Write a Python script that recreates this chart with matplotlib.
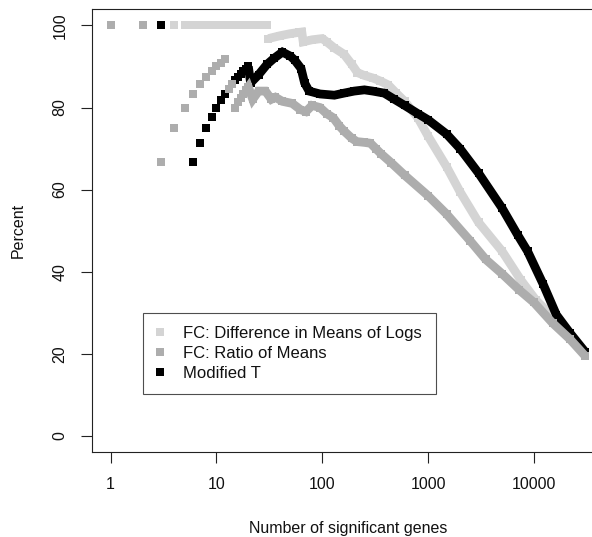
import numpy as np
import matplotlib
matplotlib.use('Agg')
import matplotlib.pyplot as plt
from matplotlib.lines import Line2D
from matplotlib.ticker import FixedLocator, FixedFormatter, NullLocator

plt.rcParams['font.family'] = ['Liberation Sans', 'DejaVu Sans']

series_labels = ['FC: Difference in Means of Logs', 'FC: Ratio of Means', 'Modified T']
series_colors = ['#d4d4d4', '#adadad', '#000000']

# ---- FC: Difference in Means of Logs (light grey)
logs_x_discrete = [1, 2, 3, 4, 5, 6, 7, 8, 9, 10, 11, 12, 13, 14, 15, 16, 17, 18, 19, 20,
                   21, 22, 23, 24, 25, 26, 27, 28, 29, 30]
logs_y_discrete = [100, 100, 100, 100, 100, 100, 100, 100, 100, 100, 100, 100, 100, 100, 100,
                   100, 100, 100, 100, 100, 100, 100, 100, 100, 100, 100, 100, 100, 100, 100]
logs_x_dense = [31, 40, 50, 60, 64, 66, 80, 100, 110, 130, 160, 190, 215, 250, 300, 350, 420,
                500, 600, 800, 1000, 1500, 2000, 3000, 5000, 7500, 10500, 15200, 22000, 30400]
logs_y_dense = [96.8, 97.5, 98.0, 98.3, 98.4, 96.0, 96.5, 96.8, 96.0, 94.5, 93.0, 90.5, 88.5,
                87.8, 87.2, 86.5, 85.5, 83.5, 81.5, 77.5, 73.0, 65.5, 59.5, 52.0, 45.0, 38.0,
                33.0, 29.0, 24.5, 20.0]

# ---- FC: Ratio of Means (medium grey)
ratio_x_discrete = [1, 2, 3, 4, 5, 6, 7, 8, 9, 10, 11, 12, 13, 14, 15, 16, 17, 18]
ratio_y_discrete = [100, 100, 66.7, 75, 80, 83.3, 85.7, 87.5, 88.9, 90, 90.9, 91.7,
                    84.6, 85.7, 80.0, 81.3, 82.4, 83.3]
ratio_x_dense = [19, 20, 22, 25, 29, 33, 36, 42, 52, 62, 70, 80, 95, 110, 127, 145, 160, 190,
                 212, 250, 285, 320, 360, 450, 600, 1000, 1500, 2500, 3500, 5000, 7300, 10000,
                 15000, 22000, 30400]
ratio_y_dense = [84.2, 85.0, 82.0, 84.0, 84.0, 82.0, 82.5, 81.5, 81.0, 79.5, 79.0, 80.5, 80.0,
                 78.5, 77.5, 75.5, 74.3, 72.5, 71.7, 71.5, 71.3, 70.0, 68.7, 66.5, 63.5, 58.5,
                 54.0, 47.5, 43.0, 39.5, 35.5, 32.5, 27.5, 23.5, 19.5]

# ---- Modified T (black)
modt_x_discrete = [1, 2, 3, 4, 5, 6, 7, 8, 9, 10, 11, 12, 13, 14, 15, 16, 17, 18, 19]
modt_y_discrete = [100, 100, 100, 75, 80, 66.7, 71.4, 75, 77.8, 80, 81.8, 83.3, 84.6, 85.7,
                   86.7, 87.5, 88.2, 88.9, 89.5]
modt_x_dense = [20, 21, 25, 30, 35, 42, 50, 55, 63, 68, 75, 95, 130, 160, 200, 250, 300, 385,
                480, 600, 800, 1000, 1500, 2000, 3000, 5000, 7000, 8700, 12200, 16300, 22000,
                30400]
modt_y_dense = [90.0, 86.0, 88.0, 90.5, 92.0, 93.5, 92.5, 91.5, 89.5, 86.0, 84.0, 83.3, 83.0,
                83.5, 84.0, 84.3, 84.0, 83.5, 82.0, 80.5, 78.5, 77.0, 73.5, 70.0, 64.0, 55.5,
                49.0, 45.0, 37.0, 29.5, 25.0, 20.5]

x_ticks = [1, 10, 100, 1000, 10000]
x_tick_labels = ['1', '10', '100', '1000', '10000']
y_ticks = [0, 20, 40, 60, 80, 100]
y_tick_labels = ['0', '20', '40', '60', '80', '100']

W, H = 592, 537
fig = plt.figure(figsize=(W / 100, H / 100), dpi=100)
ax = fig.add_axes([91.7 / W, (H - 452.3) / H, (604 - 91.7) / W, (452.3 - 9) / H])

ms = 5.2
lw_band = 6.3

def draw(xd, yd, xs, ys, color, z):
    ax.plot(xd, yd, ls='none', marker='s', ms=ms, mfc=color, mec=color, mew=0, zorder=z)
    ax.plot(xs, ys, ls='-', lw=lw_band, color=color, marker='s', ms=ms, mfc=color, mec=color,
            mew=0, solid_joinstyle='miter', solid_capstyle='butt', zorder=z)

draw(logs_x_discrete, logs_y_discrete, logs_x_dense, logs_y_dense, series_colors[0], 2)
draw(modt_x_discrete, modt_y_discrete, modt_x_dense, modt_y_dense, series_colors[2], 3)
draw(ratio_x_discrete, ratio_y_discrete, ratio_x_dense, ratio_y_dense, series_colors[1], 4)

ax.set_xscale('log')
all_x = logs_x_discrete + logs_x_dense
lo, hi = np.log10(min(all_x)), np.log10(max(all_x))
ext = 0.04 * (hi - lo)
ax.set_xlim(10 ** (lo - ext), 10 ** (hi + ext))
ax.set_ylim(-4, 104)

ax.xaxis.set_major_locator(FixedLocator(x_ticks))
ax.xaxis.set_major_formatter(FixedFormatter(x_tick_labels))
ax.xaxis.set_minor_locator(NullLocator())
ax.set_yticks(y_ticks)
ax.set_yticklabels(y_tick_labels, rotation=90, va='center')

fs = 11.5
ax.tick_params(axis='both', which='major', direction='out', length=8, width=0.8,
               color='#222222', labelsize=fs, labelcolor='#111111')
ax.tick_params(axis='x', pad=10)
ax.tick_params(axis='y', pad=9.5)
for s in ax.spines.values():
    s.set_color('#222222')
    s.set_linewidth(0.8)

ax.set_xlabel('Number of significant genes', fontsize=fs, color='#111111', va='center')
ax.xaxis.set_label_coords(0.5, (452.3 - 529) / (452.3 - 9))
ax.set_ylabel('Percent', fontsize=fs, color='#111111', va='center')
ax.yaxis.set_label_coords((18 - 91.7) / (604 - 91.7), 0.5)

handles = [Line2D([], [], ls='none', marker='s', ms=ms, mfc=c, mec=c, mew=0) for c in series_colors]
leg = ax.legend(handles, series_labels, loc='upper left',
                bbox_to_anchor=(142.6 / W, 1 - 312.7 / H), bbox_transform=fig.transFigure,
                fontsize=12, frameon=True, fancybox=False, borderpad=0.8,
                handlelength=0.5, handletextpad=1.15, labelspacing=0.3, borderaxespad=0)
leg.get_frame().set_edgecolor('#222222')
leg.get_frame().set_linewidth(0.8)
for t in leg.get_texts():
    t.set_color('#111111')

fig.savefig('out.png', dpi=100)
